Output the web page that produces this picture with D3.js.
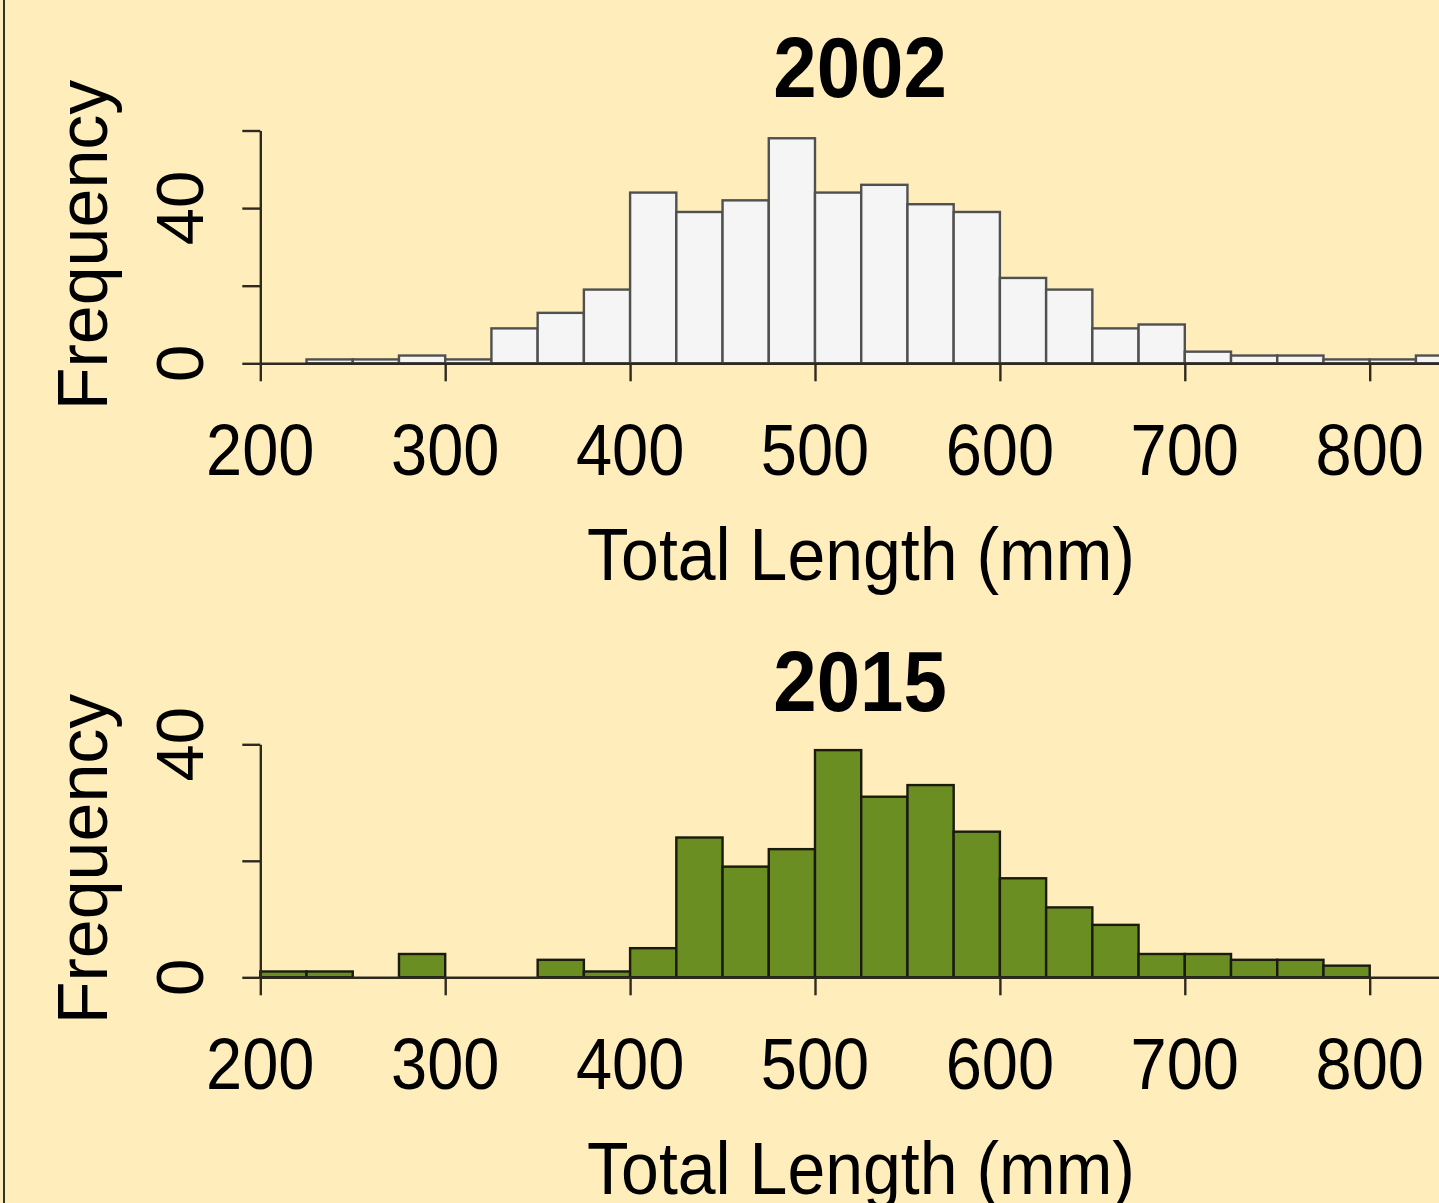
<!DOCTYPE html>
<html>
<head>
<meta charset="utf-8">
<script src="https://cdn.jsdelivr.net/npm/d3@7"></script>
<style>
  html, body { margin: 0; padding: 0; background: #FFEEBB; }
  svg { display: block; }
  text { font-family: "Liberation Sans", Arial, sans-serif; fill: #000; }
</style>
</head>
<body>
<svg id="chart" width="1439" height="1203"></svg>
<script>
// ---- data ----
const binStarts = [200,225,250,275,300,325,350,375,400,425,450,475,500,525,550,575,600,625,650,675,700,725,750,775,800,825];
const binWidth = 25;
const counts2002 = [0,1,1,2,1,9,13,19,44,39,42,58,44,46,41,39,22,19,9,10,3,2,2,1,1,2];
const counts2015 = [1,1,0,4,0,0,3,1,5,24,19,22,39,31,33,25,17,12,9,4,4,3,3,2,0,0];
const xTickValues = [200,300,400,500,600,700,800,900];
const xTickLabels = [200,300,400,500,600,700,800];
const yTicks2002 = [0,20,40,60];
const yTicks2015 = [0,20,40];
const yTickLabels = [0,40];
const titles = ["2002","2015"];
const xLabel = "Total Length (mm)";
const yLabel = "Frequency";

const svg = d3.select("#chart");
svg.append("rect").attr("x",0).attr("y",0).attr("width",1439).attr("height",1203).attr("fill","#FFEEBB");
svg.append("line").attr("x1",4).attr("x2",4).attr("y1",0).attr("y2",1203)
  .attr("stroke","#000").attr("stroke-width",1.6);

const x = d3.scaleLinear().domain([200,900]).range([260.3, 1554.6]);

const panels = [
  {title: titles[0], counts: counts2002, yMax: 60, yTicks: yTicks2002, base: 363.3, top: 130.5,
   fill: "#F5F5F5", stroke: "#505050", off: 0},
  {title: titles[1], counts: counts2015, yMax: 40, yTicks: yTicks2015, base: 977.3, top: 744.3,
   fill: "#6B8E23", stroke: "#1a1a0e", off: 614}
];

panels.forEach(p => {
  const y = d3.scaleLinear().domain([0, p.yMax]).range([p.base, p.top]);
  const g = svg.append("g");

  // bars
  g.selectAll("rect.bar").data(binStarts.map((s,i)=>({s, c:p.counts[i]})))
    .enter().append("rect").attr("class","bar")
    .attr("x", d => x(d.s))
    .attr("width", d => x(d.s + binWidth) - x(d.s))
    .attr("y", d => y(d.c))
    .attr("height", d => y(0) - y(d.c))
    .attr("fill", p.fill)
    .attr("stroke", p.stroke)
    .attr("stroke-width", 2.4);

  // x axis
  const xAxis = d3.axisBottom(x).tickValues(xTickValues).tickSize(18).tickSizeOuter(0).tickFormat("");
  const xg = g.append("g").attr("transform", `translate(0,${p.base})`).call(xAxis);
  xg.select(".domain").attr("stroke","#2e2a20").attr("stroke-width",2.4);
  xg.selectAll(".tick line").attr("stroke","#2e2a20").attr("stroke-width",2.4);

  // y axis
  const yAxis = d3.axisLeft(y).tickValues(p.yTicks).tickSize(18).tickSizeOuter(0).tickFormat("");
  const yg = g.append("g").attr("transform", `translate(260.3,0)`).call(yAxis);
  yg.select(".domain").attr("stroke","#2e2a20").attr("stroke-width",2.4);
  yg.selectAll(".tick line").attr("stroke","#2e2a20").attr("stroke-width",2.4);

  // x tick labels
  g.selectAll("text.xt").data(xTickLabels).enter().append("text").attr("class","xt")
    .attr("text-anchor","middle")
    .attr("font-size",65)
    .attr("transform", d => `translate(${x(d)},${475 + p.off}) scale(1,1.12)`)
    .text(d => d);

  // y tick labels (rotated)
  g.selectAll("text.yt").data(yTickLabels).enter().append("text").attr("class","yt")
    .attr("text-anchor","middle")
    .attr("font-size",67)
    .attr("transform", d => `translate(203,${y(d)}) rotate(-90)`)
    .text(d => d);

  // title
  g.append("text").attr("text-anchor","middle").attr("font-size",78).attr("font-weight","bold")
    .attr("transform", `translate(860,${96.5 + p.off}) scale(1,1.1)`)
    .text(p.title);

  // x label
  g.append("text").attr("text-anchor","middle").attr("font-size",68)
    .attr("transform", `translate(861,${580 + p.off}) scale(1,1.09)`)
    .text(xLabel);

  // y label
  g.append("text").attr("text-anchor","middle").attr("font-size",70)
    .attr("transform", `translate(107,${245 + p.off}) rotate(-90)`)
    .text(yLabel);
});
</script>
</body>
</html>
